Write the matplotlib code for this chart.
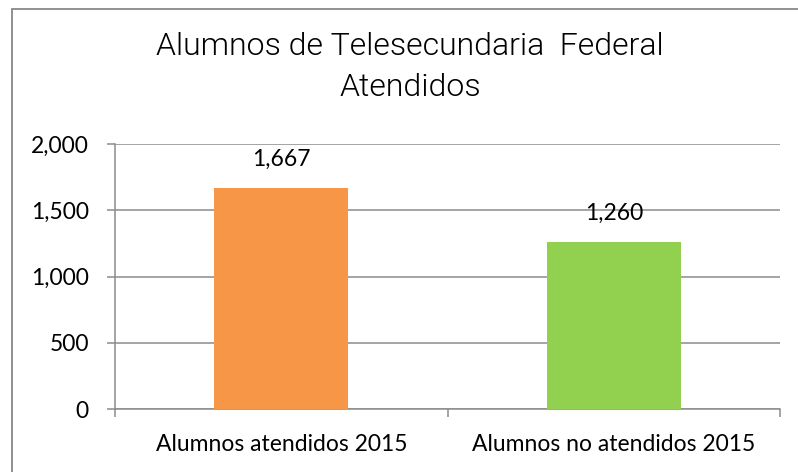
import matplotlib
matplotlib.use("Agg")
import matplotlib.pyplot as plt
from matplotlib.patches import Rectangle
from matplotlib.ticker import FuncFormatter

categories = ["Alumnos atendidos 2015", "Alumnos no atendidos 2015"]
values = [1667, 1260]
colors = ["#F79646", "#92D050"]
title = "Alumnos de Telesecundaria  Federal\nAtendidos"
yticks = [0, 500, 1000, 1500, 2000]

W, H = 798, 472
fig = plt.figure(figsize=(W / 100, H / 100), dpi=100)
ax = fig.add_axes([115 / W, 1 - 409 / H, (780 - 115) / W, (409 - 144) / H])

grid_c = "#8C8C8C"
fs = 16.5
x = list(range(len(categories)))
ax.bar(x, values, width=0.403, color=colors, zorder=3)
ax.set_xlim(-0.5, len(categories) - 0.5)
ax.set_ylim(0, 2000)
ax.set_yticks(yticks)
ax.yaxis.set_major_formatter(FuncFormatter(lambda v, p: f"{int(v):,}"))
ax.yaxis.grid(True, color=grid_c, linewidth=1.1, zorder=0)

ax.set_xticks([i - 0.5 for i in range(len(categories) + 1)])
ax.set_xticklabels([])
ax.set_xticks(x, minor=True)
ax.set_xticklabels(categories, minor=True)
ax.tick_params(axis="x", which="major", length=5.5, width=1.1, color=grid_c, direction="out")
ax.tick_params(axis="x", which="minor", length=0, pad=18, labelsize=fs)
ax.tick_params(axis="y", length=5.8, width=1.1, color=grid_c, pad=13, labelsize=fs)
for lab in ax.get_xticklabels(minor=True) + ax.get_yticklabels():
    lab.set_fontfamily("Lato")

for s in ["top", "right"]:
    ax.spines[s].set_visible(False)
for s in ["left", "bottom"]:
    ax.spines[s].set_color(grid_c)
    ax.spines[s].set_linewidth(1.1)

for xi, v in zip(x, values):
    ax.annotate(f"{v:,}", (xi, v), xytext=(0, 13), textcoords="offset points",
                ha="center", va="bottom", fontsize=fs, fontfamily="Lato")

fig.text(410 / W, 1 - 32 / H, title, ha="center", va="top", fontsize=23,
         fontfamily="Roboto", fontweight=300, color="black", linespacing=1.5)

fig.patches.append(Rectangle((12 / W, -0.05), 1.1, 1 - 9 / H + 0.05,
                             transform=fig.transFigure, fill=False,
                             edgecolor="#888888", linewidth=1.3))

fig.savefig("out.png", dpi=100)
